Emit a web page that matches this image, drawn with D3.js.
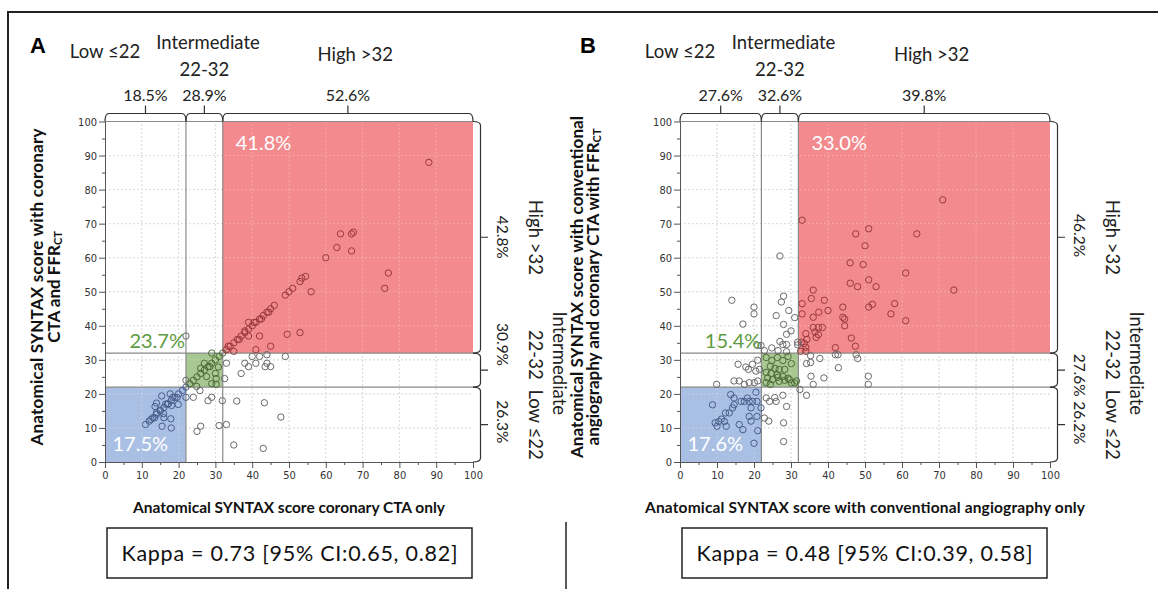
<!DOCTYPE html>
<html>
<head>
    <title>Anatomical SYNTAX score agreement</title>
    <script src="https://d3js.org/d3.v7.min.js"></script>
    <style>
        body {
            margin: 0;
            background: #fff;
        }
        .tick text {
            font-family: "Liberation Sans Narrow", "DejaVu Sans Condensed", "Liberation Sans", sans-serif;
            font-size: 11px;
            fill: #333;
        }
        .tick line, .domain {
            stroke: #555;
        }
    </style>
</head>
<body>
<div id="chart"></div>
<script>
    // category cut-offs of the SYNTAX score
    const cutoffs = [22, 32];
    const topCategories = ["Low \u226422", "Intermediate", "22-32", "High >32"];
    const sideCategories = ["High >32", "Intermediate", "22-32", "Low \u226422"];

    // column (x) percentages low / intermediate / high
    const colPctA = ["18.5%", "28.9%", "52.6%"];
    const colPctB = ["27.6%", "32.6%", "39.8%"];
    // row (y) percentages high / intermediate / low
    const rowPctA = ["42.8%", "30.9%", "26.3%"];
    const rowPctB = ["46.2%", "27.6%", "26.2%"];
    // agreement cells high / intermediate / low
    const cellPctA = ["41.8%", "23.7%", "17.5%"];
    const cellPctB = ["33.0%", "15.4%", "17.6%"];

    const kappaTexts = ["Kappa = 0.73 [95% CI:0.65, 0.82]", "Kappa = 0.48 [95% CI:0.39, 0.58]"];
    const xTitles = ["Anatomical SYNTAX score coronary CTA only",
                     "Anatomical SYNTAX score with conventional angiography only"];

    // panel A: x = coronary CTA only, y = coronary CTA with FFRct
    const ctaOnlyPoints = [
        [11,11],[12,12],[12.5,12.5],[13,13],[13.5,13],[14,14],[15,15],[16,16],[16.5,17],[17,17],[18,18],[19,19],
        [20,20],[21,21],[22,22],[23,23],[24,24],[25,25],[26,26],[27,27],[28,28],[29,29],[30,30],[31,31],[32,32],
        [33,33],[33.5,34],[34,34],[35,35],[36,36],[36.5,36],[37,37],[38,38],[38,38.5],[39,39],[40,40],[40.5,41],
        [41,41],[42,42],[42.5,42],[43,43],[44,44],[44.5,44],[45,45],[46,46],
        [49,49],[50,50],[51,51],[53,53],[53.5,54],[54.5,54.5],[60,60],[63,63],[67,67],[67.5,67.5],[88,88],
        [64,67],[67,62],[77,55.5],[76,51],[56,50],[39,41],[42,37],[49.5,37.5],[53,38],[39,37],[45,34],[41,33],
        [35,32.5],[22,37],
        [40,31],[42,31],[44,31.5],[49,31],[41,29],[44,29],[43.5,28],[45,28],[38,29],[39,28],[37,26],[33,29],
        [32.5,24.5],[29,32],
        [27,29],[28.5,28],[30,26],[30.2,24.5],[29,23],[30.2,22.8],[27.6,25.1],[30.8,27.9],[26,27.5],
        [24.9,22.2],[25.8,21],[24,19],[22,19],[22,24],[28,18],[29,19],[31.9,18],[35.8,17.9],[43.3,17.4],
        [47.8,13.2],[25,9],[26,10.5],[31,10.7],[33,11],[35,5],[43,4],
        [15.4,19.4],[17.7,20],[18.4,19],[19.6,19],[19.9,16.9],[18.1,16.6],[17.2,17.1],[14,17.3],[13.6,16.3],
        [15,15.2],[15.9,14.2],[17.9,12.7],[15.5,10.5],[18,10],[16,13],[14,14.5]
    ];

    // panel B: x = conventional angiography only, y = angiography + coronary CTA with FFRct
    const angioPoints = [
        [71,77],[33,71],[51,68.5],[47.5,67],[64,67],[50,63.5],[46,58.5],[49.5,58],[61,55.5],[46,52.5],[48,51.5],
        [51,53.5],[53,51.5],[74,50.5],[36,50.5],[35.5,48],[39,47.5],[37.5,44],[40,44.5],[33,46.5],[33,43.5],
        [36,42.5],[44,45.5],[44,42.5],[44.5,42],[44.5,40],[51,45.5],[52,46.3],[58,46.5],[57,43.5],[61,41.5],
        [36,39.5],[37.4,39.5],[38.5,39.5],[36.5,38.2],[37.4,37.4],[36.8,36.6],[34,37.7],[34.3,36],[33.6,34.8],
        [34,33.7],[32.8,35.2],[32.6,32.5],[34,32.5],[42,33.6],[46.3,36.4],[47.4,34],
        [42.7,31.5],[42,31.5],[47.6,31.5],[48,30.4],[35.3,31.2],[37.8,30.4],[34.2,28.9],[35.3,29.2],
        [35.4,25.2],[36,22.8],[38.9,24.7],[42.8,27.7],[50.9,25.2],[50.9,22.8],[32.4,21.3],[34.2,19.6],
        [27,60.5],[14,47.5],[17,40.5],[20,45.5],[20,43.5],[28,48.7],[27.4,47],[26,43],[29.4,44.5],[31,42.4],
        [28,40.4],[30,38.5],[28.8,37.5],[27,35.4],[27.8,34.5],[28.8,34.5],[31.8,35.2],[31.8,34.4],[24.8,33.5],
        [26.5,32.7],[28.8,32.4],[22.8,32.7],[21.9,34.2],[21,34.2],
        [23.3,30.7],[24.8,29.8],[26.3,30.7],[27.8,29.8],[29.2,31],[30.1,28.9],[24.4,28.1],[25.7,27.5],[26.8,27.2],
        [28.3,27.2],[23.3,26.3],[24.6,26],[26.3,25.6],[27.8,25.1],[29.2,24.6],[23.7,24.7],[25,24.2],[26.5,24.9],
        [26.8,23.7],[28.3,24],[29.6,24.2],[31,23.2],[30.1,23.2],[23.3,23.3],[24.4,22.8],[31.5,23.8],
        [15.7,28.7],[17.8,27.9],[18.5,27.2],[19.6,28.7],[21,29.9],[14.6,23.8],[16,23.8],[17.4,22.8],[18.7,23.3],
        [20.1,23.3],[21,23.8],[9.9,22.8],[20.5,26.7],[21.5,27.2],
        [27.8,19.6],[28.8,16.3],[25.6,18.9],[26,17.8],[23.3,18.8],[24.2,17.8],[22.8,12.9],[21.9,15.9],[28,11.5],
        [28,6],[24,12],
        [8.8,16.8],[13.7,19.8],[14.6,18.8],[16.5,17.8],[17.4,17.8],[18.7,17.8],[19.6,17.8],[20.8,17.8],[18.2,18.8],
        [14.6,16.8],[14.2,15.9],[13.3,14.4],[12.3,14.4],[19.2,15.9],[18.7,13.4],[19.2,12],[20.8,13.4],[12,11.9],
        [10.5,11.9],[11.2,12.6],[10,10.5],[12.5,10.5],[9.5,11.5],[20,5.5],[17,9.5],[21,9.2],[16,11],[20.5,20.5]
    ];

    const W = 1158, H = 589;
    const FONT = "Lato, 'Open Sans', sans-serif";
    const RED = "#f38a8e", GREEN = "#a8c892", BLUE = "#a9bfe4";

    const svg = d3.select("#chart").append("svg")
        .attr("width", W)
        .attr("height", H);

    // outer figure frame (top and left edges)
    svg.append("path")
        .attr("d", "M8,589 L8,12 L1158,12")
        .attr("fill", "none")
        .attr("stroke", "#222")
        .attr("stroke-width", 2);
    svg.append("line")
        .attr("x1", 566).attr("x2", 566).attr("y1", 522).attr("y2", 589)
        .attr("stroke", "#222").attr("stroke-width", 1.5);

    const panels = [
        {letter: "A", letterX: 30, points: ctaOnlyPoints, colPct: colPctA, rowPct: rowPctA, cellPct: cellPctA,
         kappa: kappaTexts[0], xTitle: xTitles[0], xTitleLen: 312, range: [105, 473],
         rowPctAt: [66, 34.5, 11.8],
         yTitle: [{text: "Anatomical SYNTAX score with coronary", dx: -69, len: 317},
                  {text: "CTA and FFR", sub: "CT", dx: -52}]},
        {letter: "B", letterX: 580, points: angioPoints, colPct: colPctB, rowPct: rowPctB, cellPct: cellPctB,
         kappa: kappaTexts[1], xTitle: xTitles[1], xTitleLen: 440, range: [680, 1050],
         rowPctAt: [66.5, 25.5, 11.5],
         yTitle: [{text: "Anatomical SYNTAX score with conventional", dx: -104, len: 342},
                  {text: "angiography and coronary CTA with FFR", sub: "CT", dx: -88, len: 317}]}
    ];

    function bracketH(a, b, base, top, tip) {
        var m = (a + b) / 2, r = 4;
        return "M" + a + "," + base + " Q" + a + "," + top + " " + (a + r) + "," + top +
               " L" + (b - r) + "," + top + " Q" + b + "," + top + " " + b + "," + base +
               " M" + m + "," + top + " L" + m + "," + tip;
    }

    function bracketV(a, b, base, top, tip) {
        var m = (a + b) / 2, r = 4;
        return "M" + base + "," + a + " Q" + top + "," + a + " " + top + "," + (a + r) +
               " L" + top + "," + (b - r) + " Q" + top + "," + b + " " + base + "," + b +
               " M" + top + "," + m + " L" + tip + "," + m;
    }

    function drawPanel(p) {
        var x = d3.scaleLinear().domain([0, 100]).range(p.range);
        var y = d3.scaleLinear().domain([0, 100]).range([462, 121.5]);
        var g = svg.append("g");
        var grid = d3.range(10, 100, 10);

        function drawGrid(color, opacity) {
            g.selectAll(null).data(grid).enter().append("line")
                .attr("x1", d => x(d)).attr("x2", d => x(d))
                .attr("y1", y(0)).attr("y2", y(100))
                .attr("stroke", color).attr("stroke-opacity", opacity)
                .attr("stroke-dasharray", "1.5,2.5");
            g.selectAll(null).data(grid).enter().append("line")
                .attr("x1", x(0)).attr("x2", x(100))
                .attr("y1", d => y(d)).attr("y2", d => y(d))
                .attr("stroke", color).attr("stroke-opacity", opacity)
                .attr("stroke-dasharray", "1.5,2.5");
        }

        drawGrid("#bdbdbd", 1);

        var zones = [
            {lo: 0, hi: cutoffs[0], fill: BLUE},
            {lo: cutoffs[0], hi: cutoffs[1], fill: GREEN},
            {lo: cutoffs[1], hi: 100, fill: RED}
        ];
        g.selectAll(null).data(zones).enter().append("rect")
            .attr("x", d => x(d.lo))
            .attr("y", d => y(d.hi))
            .attr("width", d => x(d.hi) - x(d.lo))
            .attr("height", d => y(d.lo) - y(d.hi))
            .attr("fill", d => d.fill);

        drawGrid("#fff", 0.35);

        // cut-off lines
        g.selectAll(null).data(cutoffs).enter().append("line")
            .attr("x1", d => x(d)).attr("x2", d => x(d))
            .attr("y1", y(0)).attr("y2", y(100))
            .attr("stroke", "#8a8a8a").attr("stroke-width", 1.2);
        g.selectAll(null).data(cutoffs).enter().append("line")
            .attr("x1", x(0)).attr("x2", x(100))
            .attr("y1", d => y(d)).attr("y2", d => y(d))
            .attr("stroke", "#8a8a8a").attr("stroke-width", 1.2);
        g.append("line")
            .attr("x1", x(0)).attr("x2", x(100))
            .attr("y1", y(100)).attr("y2", y(100))
            .attr("stroke", "#8a8a8a").attr("stroke-width", 1.2);

        // points, outline tinted by the zone they fall in
        function pointColor(d) {
            if (d[0] > 32 && d[1] > 32) return "#9a3a3e";
            if (d[0] > 22 && d[0] <= 32 && d[1] > 22 && d[1] <= 32) return "#4d6a37";
            if (d[0] <= 22 && d[1] <= 22) return "#4a5e8c";
            return "#6a6a6a";
        }
        g.selectAll(null).data(p.points).enter().append("circle")
            .attr("cx", d => x(d[0]))
            .attr("cy", d => y(d[1]))
            .attr("r", 3.2)
            .attr("fill", "none")
            .attr("stroke", pointColor)
            .attr("stroke-width", 1);

        // axes with major and minor ticks
        var major = d3.range(0, 101, 10), minor = d3.range(5, 100, 10);
        g.append("g")
            .attr("transform", "translate(0," + y(0) + ")")
            .call(d3.axisBottom(x).tickValues(major).tickSize(6).tickSizeOuter(0).tickPadding(3));
        g.append("g")
            .attr("transform", "translate(0," + y(0) + ")")
            .call(d3.axisBottom(x).tickValues(minor).tickSize(3).tickSizeOuter(0).tickFormat(""));
        g.append("g")
            .attr("transform", "translate(" + x(0) + ",0)")
            .call(d3.axisLeft(y).tickValues(major).tickSize(6).tickSizeOuter(0).tickPadding(2));
        g.append("g")
            .attr("transform", "translate(" + x(0) + ",0)")
            .call(d3.axisLeft(y).tickValues(minor).tickSize(3).tickSizeOuter(0).tickFormat(""));

        // brackets on top and right
        var bounds = [[0, cutoffs[0]], [cutoffs[0], cutoffs[1]], [cutoffs[1], 100]];
        g.selectAll(null).data(bounds).enter().append("path")
            .attr("d", d => bracketH(x(d[0]), x(d[1]), y(100), y(100) - 8, y(100) - 16))
            .attr("fill", "none").attr("stroke", "#333").attr("stroke-width", 1.2);
        g.selectAll(null).data(bounds.slice().reverse()).enter().append("path")
            .attr("d", d => bracketV(y(d[1]), y(d[0]), x(100), x(100) + 7.5, x(100) + 15))
            .attr("fill", "none").attr("stroke", "#333").attr("stroke-width", 1.2);

        // panel letter
        svg.append("text")
            .attr("x", p.letterX).attr("y", 53)
            .attr("font-family", "'Liberation Sans', Arial, sans-serif")
            .attr("font-weight", "bold").attr("font-size", 22)
            .text(p.letter);

        function label(px, py, txt, size, anchor) {
            return g.append("text")
                .attr("x", px).attr("y", py)
                .attr("text-anchor", anchor || "middle")
                .attr("font-family", FONT).attr("font-size", size)
                .attr("fill", "#222")
                .text(txt);
        }

        // top category labels
        label(x(0), 58, topCategories[0], 18.5);
        label(x(28), 49, topCategories[1], 18.5);
        label(x(27), 76, topCategories[2], 18.5);
        label(x(68), 61, topCategories[3], 18.5);
        bounds.forEach((b, i) => label(x((b[0] + b[1]) / 2), 100.5, p.colPct[i], 16));

        // right side rotated labels
        function vlabel(px, py, txt, size) {
            return g.append("text")
                .attr("transform", "translate(" + px + "," + py + ") rotate(90)")
                .attr("text-anchor", "middle")
                .attr("dominant-baseline", "central")
                .attr("font-family", FONT).attr("font-size", size)
                .attr("fill", "#222")
                .text(txt);
        }
        p.rowPct.forEach((t, i) => vlabel(x(100) + 30, y(p.rowPctAt[i]), t, 15.5));
        vlabel(x(100) + 63, y(66), sideCategories[0], 18.5);
        vlabel(x(100) + 87, y(29), sideCategories[1], 18.5);
        vlabel(x(100) + 63, y(31.5), sideCategories[2], 18.5);
        vlabel(x(100) + 63, y(11), sideCategories[3], 18.5);

        // agreement percentages in the shaded cells
        label(x(cutoffs[1]) + 13, y(100) + 28.5, p.cellPct[0], 20, "start").attr("fill", "#fff");
        label(x(cutoffs[0]) - 1, y(cutoffs[1]) - 5, p.cellPct[1], 20, "end").attr("fill", "#5e9b41");
        label(x(0) + 7.5, y(0) - 11, p.cellPct[2], 20, "start").attr("fill", "#fff");

        // x axis title
        g.append("text")
            .attr("x", (x(0) + x(100)) / 2).attr("y", 513)
            .attr("text-anchor", "middle")
            .attr("font-family", FONT).attr("font-weight", "bold").attr("font-size", 15.5)
            .attr("textLength", p.xTitleLen).attr("lengthAdjust", "spacing")
            .attr("fill", "#111")
            .text(p.xTitle);

        // y axis title, two rotated lines
        p.yTitle.forEach(line => {
            var t = g.append("text")
                .attr("transform", "translate(" + (x(0) + line.dx) + "," + 287 + ") rotate(-90)")
                .attr("text-anchor", "middle")
                .attr("dominant-baseline", "central")
                .attr("font-family", FONT).attr("font-weight", "bold").attr("font-size", 17)
                .attr("fill", "#111");
            if (line.len) t.attr("textLength", line.len).attr("lengthAdjust", "spacing");
            t.append("tspan").text(line.text);
            if (line.sub) {
                t.append("tspan").attr("dy", 4).attr("font-size", 11).text(line.sub);
            }
        });

        // kappa box
        g.append("rect")
            .attr("x", x(0) + 2).attr("y", 528)
            .attr("width", 365).attr("height", 50)
            .attr("fill", "#fff").attr("stroke", "#222").attr("stroke-width", 1.5);
        g.append("text")
            .attr("x", x(0) + 2 + 365 / 2).attr("y", 561)
            .attr("text-anchor", "middle")
            .attr("font-family", FONT).attr("font-size", 21.5)
            .attr("textLength", 336).attr("lengthAdjust", "spacing")
            .attr("fill", "#111")
            .text(p.kappa);
    }

    panels.forEach(drawPanel);
</script>
</body>
</html>
